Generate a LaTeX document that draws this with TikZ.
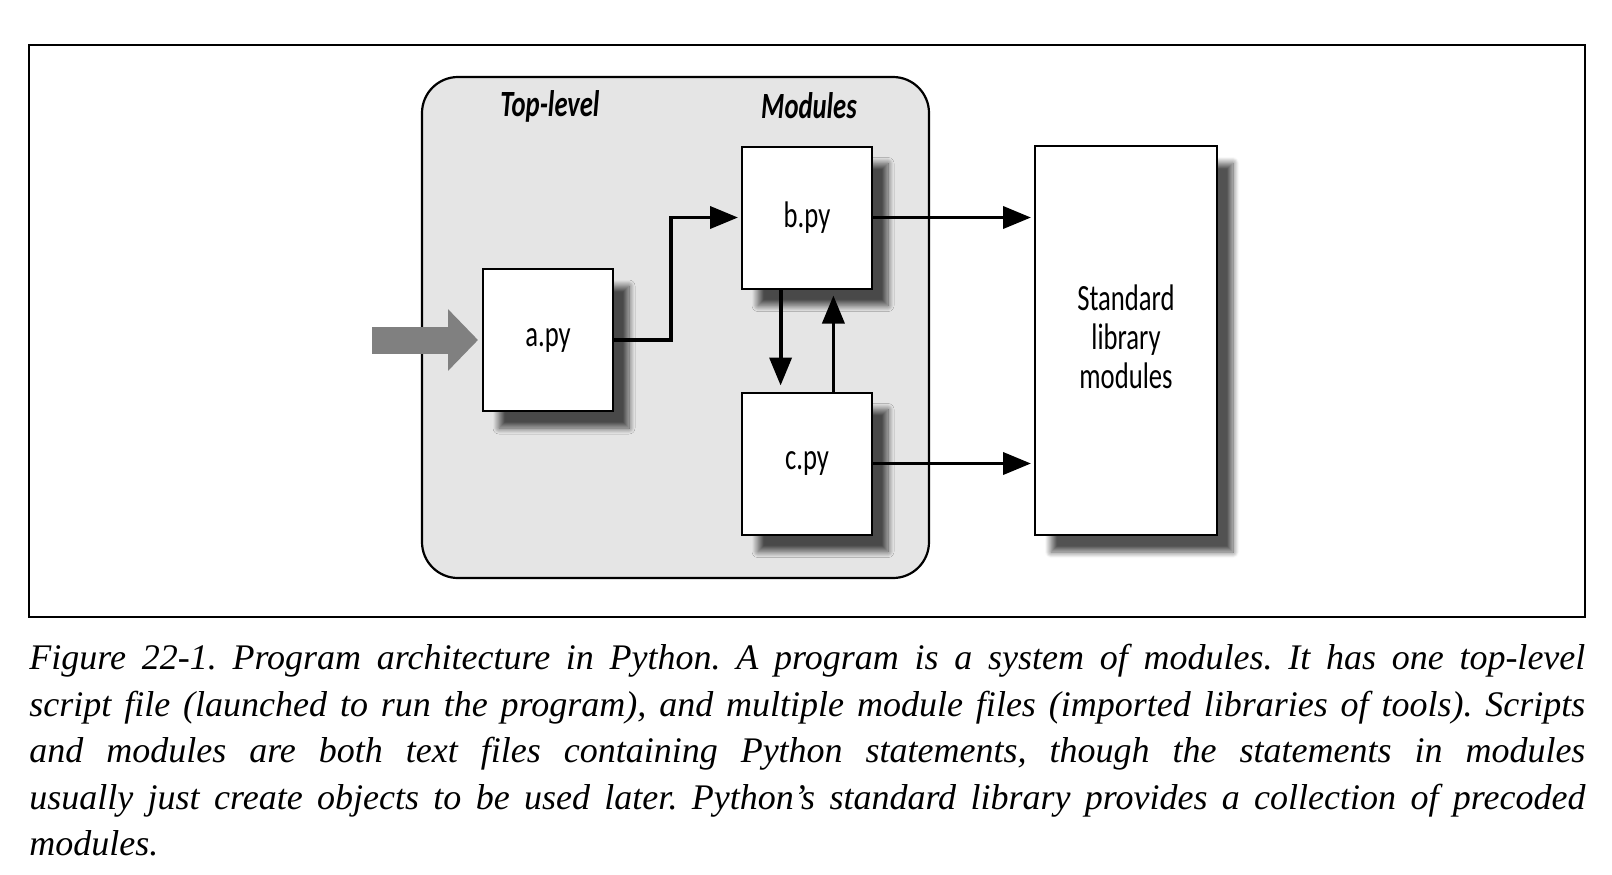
\documentclass[tikz,border=0pt]{standalone}
\usepackage{fontspec}
\setmainfont{Liberation Serif}
\newfontfamily\labfont[FakeStretch=0.72]{Carlito}
\usetikzlibrary{shadows.blur,arrows.meta,calc}
\begin{document}
\frenchspacing
\begin{tikzpicture}[x=0.5pt,y=-0.5pt,
 box/.style={draw=black,line width=1pt,fill=white,
   blur shadow={shadow xshift=8pt,shadow yshift=-8.5pt,shadow blur radius=3pt,shadow blur steps=12,shadow opacity=68},
   font=\labfont\fontsize{18.5}{19.5}\selectfont, align=center, inner sep=0pt,
   minimum width=65pt, minimum height=71pt},
 conn/.style={line width=1.9pt, -{Triangle[length=14pt,width=11pt]}, shorten >=1.5pt},
 hdr/.style={font=\labfont\bfseries\itshape\fontsize{18.5}{20}\selectfont, inner sep=0pt},
 capline/.style={font=\itshape\fontsize{18}{23.25}\selectfont, inner sep=0pt, align=left},
]
\useasboundingbox (0,0) rectangle (1612,874);
\draw[line width=0.8pt] (29,45) rectangle (1585,617);
\draw[line width=1.1pt, fill=black!10, rounded corners=18pt] (422,77) rectangle (929,578);
\node[hdr] (tl) at (550,106) {Top-level};
\node[hdr] (md) at (809,106) {Modules};
\node[box] (a) at (548,340) {a.py};
\node[box] (b) at (807,217.5) {b.py};
\node[box] (c) at (807,463.5) {c.py};
\node[box, minimum width=91pt, minimum height=194.5pt] (s) at (1126,340.5) {Standard\\library\\modules\\[-15.5pt]};
\coordinate (in) at (372,340);
\coordinate (m) at (671,300);
\draw[line width=13.5pt, draw=black!50, -{Triangle[length=15pt,width=30pt,fill=black!50]}, shorten >=2pt] (in) -- (a.west);
\draw[conn] (a.east) -| (m |- b.west) -- (b.west);
\draw[conn, shorten >=3pt] ($(b.south west)!0.3!(b.south east)$) -- ($(c.north west)!0.3!(c.north east)$);
\draw[conn, shorten >=3pt] ($(c.north west)!0.7!(c.north east)$) -- ($(b.south west)!0.7!(b.south east)$);
\draw[conn] (b.east) -- (b.east -| s.west);
\draw[conn] (c.east) -- (c.east -| s.west);
\node[capline, anchor=north west] (cap) at (29,644) {%
\makebox[778pt][s]{Figure 22-1. Program architecture in Python. A program is a system of modules. It has one top-level}\\
\makebox[778pt][s]{script file (launched to run the program), and multiple module files (imported libraries of tools). Scripts}\\
\makebox[778pt][s]{and modules are both text files containing Python statements, though the statements in modules}\\
\makebox[778pt][s]{usually just create objects to be used later. Python’s standard library provides a collection of precoded}\\
modules.};
\end{tikzpicture}
\end{document}
